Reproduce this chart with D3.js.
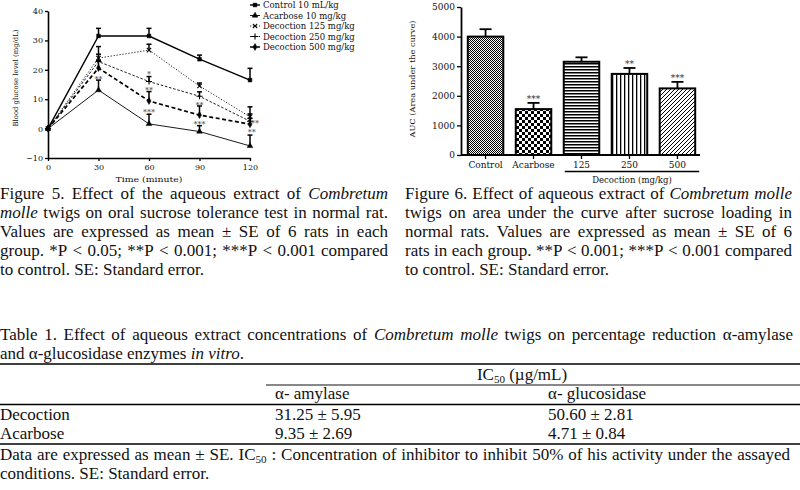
<!DOCTYPE html>
<html><head><meta charset="utf-8">
<script src="https://cdn.jsdelivr.net/npm/d3@7"></script>
<style>body{margin:0;background:#fff}svg{display:block}</style>
</head><body><svg id="c" width="800" height="490"></svg>
<script>
// ---------- DATA ----------
const times = [0, 30, 60, 90, 120];
const seriesNames = ["Control 10 mL/kg", "Acarbose 10 mg/kg", "Decoction 125 mg/kg", "Decoction 250 mg/kg", "Decoction 500 mg/kg"];
const ctrlMean = [0, 31.5, 31.5, 23.6, 16.5];
const ctrlSE   = [0, 2.6, 2.6, 1.4, 4.0];
const acarMean = [0, 13.1, 1.6, -1.0, -5.9];
const acarSE   = [0, 3.4, 3.3, 2.0, 3.7];
const d125Mean = [0, 24.0, 26.7, 14.5, 4.0];
const d125SE   = [0, 3.9, 2.0, 1.0, 3.4];
const d250Mean = [0, 22.8, 16.0, 11.0, 2.5];
const d250SE   = [0, 2.5, 1.7, 1.5, 2.5];
const d500Mean = [0, 20.6, 9.4, 4.6, 1.5];
const d500SE   = [0, 2.5, 3.2, 3.1, 2.0];
const yTicks1 = [-10, 0, 10, 20, 30, 40];
const xTicks1 = [0, 30, 60, 90, 120];
const starT1 = [30, 60, 60, 60, 90, 90, 123, 121];
const starV1 = [17.5, 19, 13.5, 6, 8.5, 2.2, 2.3, -0.6];
const starS1 = ["**", "*", "**", "***", "**", "***", "**", "**"];

const aucGroups = ["Control", "Acarbose", "125", "250", "500"];
const aucMean = [4000, 1550, 3150, 2740, 2250];
const aucSE   = [250, 210, 150, 200, 220];
const aucStars = ["", "***", "", "**", "***"];
const yTicks2 = [0, 1000, 2000, 3000, 4000, 5000];

const fig5Lines = [
  "Figure 5. Effect of the aqueous extract of |Combretum|",
  "|molle| twigs on oral sucrose tolerance test in normal rat.",
  "Values are expressed as mean ± SE of 6 rats in each",
  "group. *P < 0.05; **P < 0.001; ***P < 0.001 compared",
  "to control. SE: Standard error."
];
const fig6Lines = [
  "Figure 6. Effect of aqueous extract of |Combretum molle|",
  "twigs on area under the curve after sucrose loading in",
  "normal rats. Values are expressed as mean ± SE of 6",
  "rats in each group. **P < 0.001; ***P < 0.001 compared",
  "to control. SE: Standard error."
];
const tableTitle = [
  "Table 1.  Effect of aqueous extract concentrations of |Combretum molle| twigs on percentage reduction α-amylase",
  "and α-glucosidase enzymes |in vitro|."
];
const tableRows = ["Decoction", "Acarbose"];
const amylaseIC50 = ["31.25 ± 5.95", "9.35 ± 2.69"];
const glucosidaseIC50 = ["50.60 ± 2.81", "4.71 ± 0.84"];
const tableNotes = [
  "Data are expressed as mean ± SE. IC^50^ : Concentration of inhibitor to inhibit 50% of his activity under the assayed",
  "conditions. SE: Standard error."
];

// ---------- DRAW ----------
const svg = d3.select("#c");
const SERIF = "'DejaVu Serif', serif";
const TIMES = "'Liberation Serif', 'Times New Roman', serif";
const INK = "#111";
const FS = 17;

// patterns
const defs = svg.append("defs");
let p = defs.append("pattern").attr("id", "pCtrl").attr("patternUnits", "userSpaceOnUse").attr("width", 2).attr("height", 2);
p.append("rect").attr("width", 2).attr("height", 2).attr("fill", "#fff");
p.append("rect").attr("x", 0).attr("y", 0).attr("width", 1).attr("height", 1).attr("fill", "#000");
p.append("rect").attr("x", 1).attr("y", 1).attr("width", 1).attr("height", 1).attr("fill", "#000");
p = defs.append("pattern").attr("id", "pAcar").attr("patternUnits", "userSpaceOnUse").attr("width", 6).attr("height", 6);
p.append("rect").attr("width", 6).attr("height", 6).attr("fill", "#fff");
p.append("rect").attr("x", 0).attr("y", 0).attr("width", 3).attr("height", 3).attr("fill", "#000");
p.append("rect").attr("x", 3).attr("y", 3).attr("width", 3).attr("height", 3).attr("fill", "#000");
p = defs.append("pattern").attr("id", "pH").attr("patternUnits", "userSpaceOnUse").attr("width", 4).attr("height", 3);
p.append("rect").attr("width", 4).attr("height", 3).attr("fill", "#fff");
p.append("rect").attr("y", 0).attr("width", 4).attr("height", 1.5).attr("fill", "#000");
p = defs.append("pattern").attr("id", "pV").attr("patternUnits", "userSpaceOnUse").attr("width", 4).attr("height", 4);
p.append("rect").attr("width", 4).attr("height", 4).attr("fill", "#fff");
p.append("rect").attr("x", 0).attr("width", 1.3).attr("height", 4).attr("fill", "#000");
p = defs.append("pattern").attr("id", "pD").attr("patternUnits", "userSpaceOnUse").attr("width", 4).attr("height", 4);
p.append("rect").attr("width", 4).attr("height", 4).attr("fill", "#fff");
p.append("path").attr("d", "M-1,1 l2,-2 M0,4 l4,-4 M3,5 l2,-2").attr("stroke", "#000").attr("stroke-width", 1);
const barFills = ["url(#pCtrl)", "url(#pAcar)", "url(#pH)", "url(#pV)", "url(#pD)"];

// ===== Chart 1 =====
const x1 = d3.scaleLinear().domain([0, 120]).range([48, 250]);
const y1 = d3.scaleLinear().domain([-10, 40]).range([158, 11]);
const g1 = svg.append("g");
const symTimes = d3.symbolTimes || d3.symbolCross;
const symPlus = d3.symbolPlus || d3.symbolCross;
const series = [
  {name: seriesNames[0], mean: ctrlMean, se: ctrlSE, dash: null, w: 1.4, sym: d3.symbolSquare, size: 14, fill: true},
  {name: seriesNames[1], mean: acarMean, se: acarSE, dash: null, w: 0.9, sym: d3.symbolTriangle, size: 14, fill: true},
  {name: seriesNames[2], mean: d125Mean, se: d125SE, dash: "1.2,1.8", w: 0.9, sym: symTimes, size: 14, fill: false},
  {name: seriesNames[3], mean: d250Mean, se: d250SE, dash: "2.5,1.8", w: 0.9, sym: symPlus, size: 14, fill: false},
  {name: seriesNames[4], mean: d500Mean, se: d500SE, dash: "4,2.5", w: 1.7, sym: d3.symbolDiamond, size: 14, fill: true}
];
const line1 = d3.line().x((d, i) => x1(times[i])).y(d => y1(d));
series.forEach(s => {
  g1.append("path").attr("d", line1(s.mean)).attr("fill", "none").attr("stroke", "#000")
    .attr("stroke-width", s.w).attr("stroke-dasharray", s.dash);
  s.mean.forEach((m, i) => {
    if (!s.se[i]) return;
    const xx = x1(times[i]);
    g1.append("line").attr("x1", xx).attr("x2", xx).attr("y1", y1(m)).attr("y2", y1(m + s.se[i]))
      .attr("stroke", "#000").attr("stroke-width", 1.5);
    g1.append("line").attr("x1", xx - 2.5).attr("x2", xx + 2.5).attr("y1", y1(m + s.se[i])).attr("y2", y1(m + s.se[i]))
      .attr("stroke", "#000").attr("stroke-width", 1.5);
  });
  s.mean.forEach((m, i) => {
    g1.append("path").attr("d", d3.symbol().type(s.sym).size(s.size)())
      .attr("transform", `translate(${x1(times[i])},${y1(m)})`)
      .attr("fill", s.fill ? "#000" : "none").attr("stroke", "#000").attr("stroke-width", s.fill ? 0.5 : 1.1);
  });
});
starS1.forEach((s, i) => {
  g1.append("text").attr("x", x1(starT1[i])).attr("y", y1(starV1[i]) + 4.5).attr("text-anchor", "middle")
    .attr("font-family", SERIF).attr("font-size", 8).attr("fill", "#333").text(s);
});
const ax1y = g1.append("g").attr("transform", "translate(48,0)")
  .call(d3.axisLeft(y1).tickValues(yTicks1).tickSize(3).tickSizeOuter(0).tickPadding(2));
const ax1x = g1.append("g").attr("transform", "translate(0,158)")
  .call(d3.axisBottom(x1).tickValues(xTicks1).tickSize(3).tickSizeOuter(0).tickPadding(3));
[ax1y, ax1x].forEach(a => {
  a.select(".domain").attr("stroke", "#000").attr("stroke-width", 1.6);
  a.selectAll(".tick line").attr("stroke", "#000").attr("stroke-width", 1.3);
  a.selectAll(".tick text").attr("font-family", SERIF).attr("font-size", 8).attr("fill", INK);
});
g1.append("text").attr("transform", "translate(18,78) rotate(-90)").attr("text-anchor", "middle")
  .attr("font-family", SERIF).attr("font-size", 7).attr("fill", INK)
  .attr("textLength", 97).attr("lengthAdjust", "spacingAndGlyphs").text("Blood glucose level (mg/dL)");
g1.append("text").attr("x", 149).attr("y", 182).attr("text-anchor", "middle")
  .attr("font-family", SERIF).attr("font-size", 8).attr("fill", INK)
  .attr("textLength", 67).attr("lengthAdjust", "spacingAndGlyphs").text("Time (minute)");
series.forEach((s, i) => {
  const yy = 5 + i * 10.5;
  g1.append("line").attr("x1", 250).attr("x2", 260).attr("y1", yy).attr("y2", yy)
    .attr("stroke", "#000").attr("stroke-width", s.w).attr("stroke-dasharray", s.dash);
  g1.append("path").attr("d", d3.symbol().type(s.sym).size(s.size)())
    .attr("transform", `translate(255,${yy})`)
    .attr("fill", s.fill ? "#000" : "none").attr("stroke", "#000").attr("stroke-width", s.fill ? 0.5 : 1.1);
  g1.append("text").attr("x", 263).attr("y", yy + 3).attr("font-family", SERIF).attr("font-size", 8.5)
    .attr("fill", INK).text(s.name);
});

// ===== Chart 2 =====
const x2 = d3.scaleBand().domain(aucGroups).range([463, 700]).paddingInner(0.26).paddingOuter(0.1);
const y2 = d3.scaleLinear().domain([0, 5000]).range([155, 7]);
const g2 = svg.append("g");
aucGroups.forEach((gname, i) => {
  g2.append("rect").attr("x", x2(gname)).attr("y", y2(aucMean[i])).attr("width", x2.bandwidth())
    .attr("height", y2(0) - y2(aucMean[i])).attr("fill", barFills[i]).attr("stroke", "#000").attr("stroke-width", 2);
  const cx = x2(gname) + x2.bandwidth() / 2;
  const top = y2(aucMean[i] + aucSE[i]);
  g2.append("line").attr("x1", cx).attr("x2", cx).attr("y1", y2(aucMean[i])).attr("y2", top)
    .attr("stroke", "#000").attr("stroke-width", 1.8);
  g2.append("line").attr("x1", cx - 6).attr("x2", cx + 6).attr("y1", top).attr("y2", top)
    .attr("stroke", "#000").attr("stroke-width", 1.8);
  if (aucStars[i]) {
    g2.append("text").attr("x", cx).attr("y", top - 5 + 4.5).attr("text-anchor", "middle")
      .attr("font-family", SERIF).attr("font-size", 9).attr("fill", "#333").text(aucStars[i]);
  }
});
const ax2y = g2.append("g").attr("transform", "translate(461,0)")
  .call(d3.axisLeft(y2).tickValues(yTicks2).tickSize(4).tickSizeOuter(0).tickPadding(2).tickFormat(d3.format("d")));
const ax2x = g2.append("g").attr("transform", "translate(0,155)")
  .call(d3.axisBottom(x2).tickSize(4).tickSizeOuter(0).tickPadding(3));
ax2x.select(".domain").remove();
g2.append("line").attr("x1", 461).attr("x2", 700).attr("y1", 155).attr("y2", 155).attr("stroke", "#000").attr("stroke-width", 1.8);
[ax2y, ax2x].forEach(a => {
  a.select(".domain").attr("stroke", "#000").attr("stroke-width", 1.8);
  a.selectAll(".tick line").attr("stroke", "#000").attr("stroke-width", 1.3);
  a.selectAll(".tick text").attr("font-family", SERIF).attr("font-size", 9).attr("fill", INK);
});
g2.append("text").attr("transform", "translate(415,79) rotate(-90)").attr("text-anchor", "middle")
  .attr("font-family", SERIF).attr("font-size", 8).attr("fill", INK)
  .attr("textLength", 117).attr("lengthAdjust", "spacingAndGlyphs").text("AUC (Area under the curve)");
const bx0 = x2("125") + 1, bx1 = x2("500") + x2.bandwidth() + 4;
g2.append("line").attr("x1", bx0).attr("x2", bx1).attr("y1", 171.5).attr("y2", 171.5).attr("stroke", "#000").attr("stroke-width", 1.3);
g2.append("text").attr("x", (bx0 + bx1) / 2).attr("y", 183).attr("text-anchor", "middle")
  .attr("font-family", SERIF).attr("font-size", 8.5).attr("fill", INK).text("Decoction (mg/kg)");

// ===== Text blocks =====
function para(lines, justify, x0, W, y0, lh, size) {
  let it = false, sub = false;
  lines.forEach((ln, li) => {
    const y = y0 + li * lh;
    const words = ln.split(" ").filter(s => s.length);
    const items = words.map(w => {
      const t = svg.append("text").attr("y", y).attr("font-family", TIMES).attr("font-size", size).attr("fill", INK);
      let buf = "", shift = 0;
      const flush = () => {
        if (!buf) return;
        const ts = t.append("tspan").text(buf);
        if (it) ts.attr("font-style", "italic");
        const want = sub ? 3 : 0;
        if (want !== shift) { ts.attr("dy", want - shift); shift = want; }
        if (sub) ts.attr("font-size", size * 0.65);
        buf = "";
      };
      for (const ch of w) {
        if (ch === "|") { flush(); it = !it; }
        else if (ch === "^") { flush(); sub = !sub; }
        else buf += ch;
      }
      flush();
      return {t, w: t.node().getComputedTextLength()};
    });
    const sum = d3.sum(items, d => d.w);
    const doJ = justify[li] && items.length > 1;
    const gap = doJ ? (W - sum) / (items.length - 1) : size * 0.25;
    let cx = x0;
    items.forEach(d => { d.t.attr("x", cx); cx += d.w + gap; });
  });
}
para(fig5Lines, [1, 1, 1, 1, 0], 0, 388, 199, 19, FS);
para(fig6Lines, [1, 1, 1, 1, 0], 405, 387, 199, 19, FS);
para(tableTitle, [1, 0], 0, 793, 340, 19, FS);
para(tableNotes, [1, 0], 0, 790, 460, 19, FS);

svg.append("line").attr("x1", 0).attr("x2", 800).attr("y1", 364).attr("y2", 364).attr("stroke", "#000").attr("stroke-width", 1.5);
svg.append("line").attr("x1", 266).attr("x2", 800).attr("y1", 385).attr("y2", 385).attr("stroke", "#888").attr("stroke-width", 2);
svg.append("line").attr("x1", 0).attr("x2", 800).attr("y1", 404.5).attr("y2", 404.5).attr("stroke", "#000").attr("stroke-width", 1.4);
svg.append("line").attr("x1", 0).attr("x2", 800).attr("y1", 444).attr("y2", 444).attr("stroke", "#000").attr("stroke-width", 1.4);
const hdr = svg.append("text").attr("x", 522).attr("y", 380).attr("text-anchor", "middle")
  .attr("font-family", TIMES).attr("font-size", FS).attr("fill", INK);
hdr.append("tspan").text("IC");
hdr.append("tspan").attr("font-size", FS * 0.65).attr("dy", 3).text("50");
hdr.append("tspan").attr("dy", -3).text(" (µg/mL)");
svg.append("text").attr("x", 275).attr("y", 399).attr("font-family", TIMES).attr("font-size", FS).attr("fill", INK).text("α- amylase");
svg.append("text").attr("x", 548).attr("y", 399).attr("font-family", TIMES).attr("font-size", FS).attr("fill", INK).text("α- glucosidase");
tableRows.forEach((r, i) => {
  const yy = 420 + i * 19;
  svg.append("text").attr("x", 0).attr("y", yy).attr("font-family", TIMES).attr("font-size", FS).attr("fill", INK).text(r);
  svg.append("text").attr("x", 275).attr("y", yy).attr("font-family", TIMES).attr("font-size", FS).attr("fill", INK).text(amylaseIC50[i]);
  svg.append("text").attr("x", 548).attr("y", yy).attr("font-family", TIMES).attr("font-size", FS).attr("fill", INK).text(glucosidaseIC50[i]);
});
</script>
</body></html>
